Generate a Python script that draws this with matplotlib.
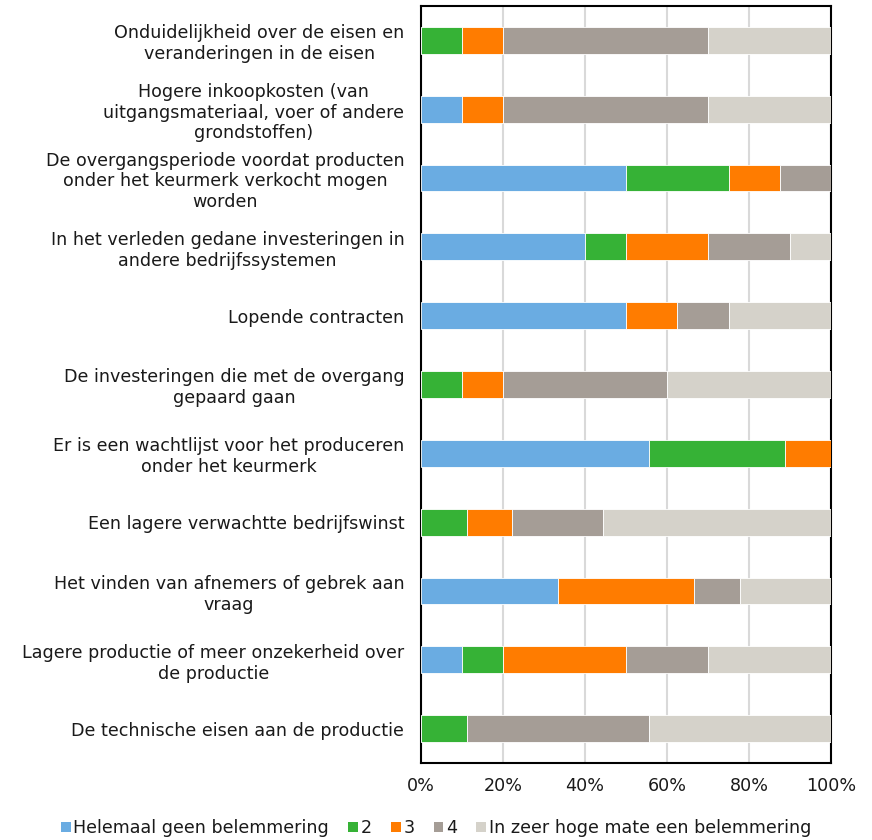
import matplotlib
matplotlib.use("Agg")
import matplotlib.pyplot as plt
import numpy as np
from matplotlib.patches import Patch

categories = [
    "Onduidelijkheid over de eisen en\nveranderingen in de eisen",
    "Hogere inkoopkosten (van\nuitgangsmateriaal, voer of andere\ngrondstoffen)",
    "De overgangsperiode voordat producten\nonder het keurmerk verkocht mogen\nworden",
    "In het verleden gedane investeringen in\nandere bedrijfssystemen",
    "Lopende contracten",
    "De investeringen die met de overgang\ngepaard gaan",
    "Er is een wachtlijst voor het produceren\nonder het keurmerk",
    "Een lagere verwachtte bedrijfswinst",
    "Het vinden van afnemers of gebrek aan\nvraag",
    "Lagere productie of meer onzekerheid over\nde productie",
    "De technische eisen aan de productie",
]
series_names = ["Helemaal geen belemmering", "2", "3", "4",
                "In zeer hoge mate een belemmering"]
s1 = [0, 10, 50, 40, 50, 0, 55.6, 0, 33.3, 10, 0]
s2 = [10, 0, 25, 10, 0, 10, 33.3, 11.1, 0, 10, 11.1]
s3 = [10, 10, 12.5, 20, 12.5, 10, 11.1, 11.1, 33.3, 30, 0]
s4 = [50, 50, 12.5, 20, 12.5, 40, 0, 22.2, 11.1, 20, 44.4]
s5 = [30, 30, 0, 10, 25, 40, 0, 55.6, 22.2, 30, 44.5]
colors = ["#6aace2", "#36b236", "#ff7c00", "#a59d96", "#d5d2ca"]
xticks = [0, 20, 40, 60, 80, 100]
xticklabels = ["0%", "20%", "40%", "60%", "80%", "100%"]

plt.rcParams['font.family'] = ['DejaVu Sans']
FS = 12.6
fig = plt.figure(figsize=(8.72, 8.40), dpi=100)
ax = fig.add_axes([421/872, 1 - 763/840, 410/872, 757/840])

y = np.arange(len(categories))
left = np.zeros(len(categories))
for vals, c, name in zip([s1, s2, s3, s4, s5], colors, series_names):
    v = np.array(vals, dtype=float)
    ax.barh(y, v, left=left, height=0.39, color=c, edgecolor="white",
            linewidth=0.6, label=name, zorder=3)
    left += v

ax.set_xlim(0, 100)
ax.set_ylim(len(categories) - 0.5, -0.5)
ax.set_yticks(y)
ax.set_yticklabels(categories, fontsize=FS, ha="right", color="#1a1a1a",
                   linespacing=1.2)
for t in ax.get_yticklabels():
    t.set_multialignment("center")
ax.tick_params(axis="y", length=0, pad=12)
ax.set_xticks(xticks)
ax.set_xticklabels(xticklabels, fontsize=FS, color="#1a1a1a")
ax.tick_params(axis="x", length=0, pad=10)
ax.grid(axis="x", color="#d9d9d9", linewidth=1.5, zorder=0)
for s in ax.spines.values():
    s.set_color("black")
    s.set_linewidth(1.5)

handles = [Patch(facecolor=c, edgecolor="none") for c in colors]
fig.legend(handles, series_names, loc="center", bbox_to_anchor=(0.5, 1 - 828/840),
           ncol=5, frameon=False, fontsize=FS, handlelength=0.55,
           handleheight=0.55, handletextpad=0.15, columnspacing=1.1,
           labelcolor="#1a1a1a")

fig.savefig("out.png", dpi=100)
